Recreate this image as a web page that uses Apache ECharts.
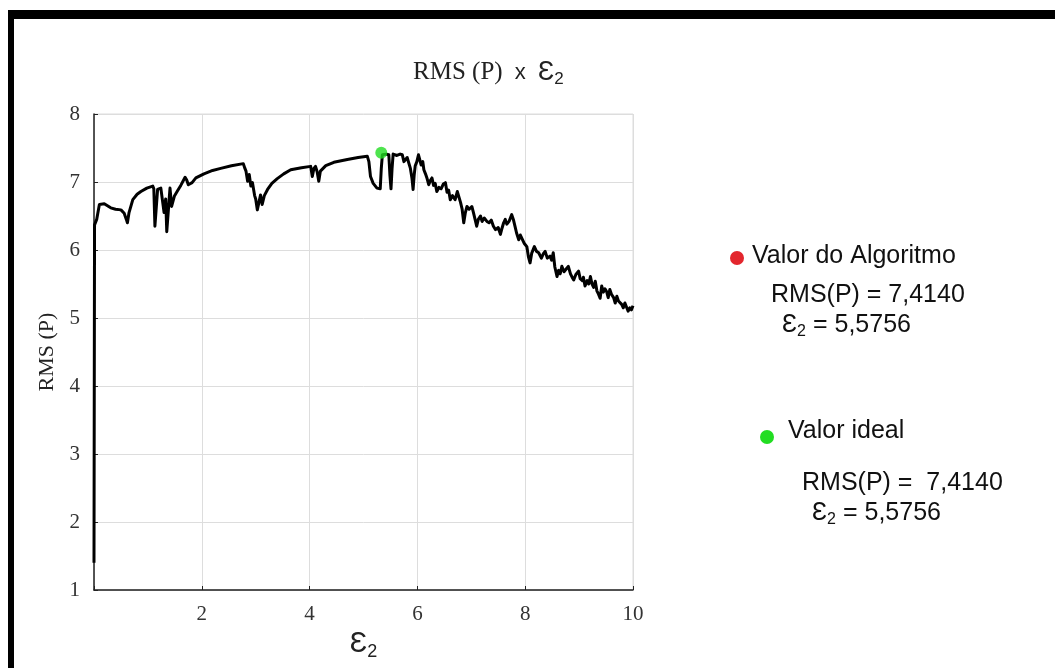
<!DOCTYPE html>
<html>
<head>
<meta charset="utf-8">
<script src="https://cdn.jsdelivr.net/npm/echarts@6/dist/echarts.min.js"></script>
<style>
  html, body { margin: 0; padding: 0; background: #fff; }
  #main { width: 1055px; height: 668px; }
</style>
</head>
<body>
<div id="main"></div>
<script>
// eixo x: epsilon 2
const eps2 = [
  0, 0.01, 0.05, 0.1, 0.19, 0.25, 0.31, 0.4, 0.5, 0.56, 0.6, 0.62, 0.65, 0.72, 0.8, 0.87, 0.98, 1.09, 1.11, 1.13,
  1.15, 1.18, 1.24, 1.27, 1.3, 1.33, 1.35, 1.38, 1.41, 1.43, 1.44, 1.49, 1.55, 1.61, 1.69, 1.72, 1.75, 1.82, 1.89, 2.04,
  2.2, 2.35, 2.55, 2.77, 2.8, 2.82, 2.85, 2.88, 2.91, 2.94, 2.98, 3.0, 3.03, 3.06, 3.09, 3.12, 3.16, 3.22, 3.3, 3.4,
  3.52, 3.65, 3.85, 4.02, 4.05, 4.08, 4.11, 4.14, 4.17, 4.2, 4.3, 4.45, 4.7, 4.9, 5.07, 5.1, 5.13, 5.18, 5.25, 5.31,
  5.33, 5.35, 5.42, 5.47, 5.49, 5.51, 5.53, 5.55, 5.62, 5.68, 5.72, 5.75, 5.78, 5.81, 5.84, 5.87, 5.9, 5.92, 5.94, 5.96,
  5.99, 6.02, 6.04, 6.07, 6.1, 6.12, 6.15, 6.18, 6.21, 6.24, 6.27, 6.3, 6.33, 6.36, 6.4, 6.44, 6.48, 6.52, 6.55, 6.58,
  6.61, 6.65, 6.7, 6.74, 6.77, 6.8, 6.83, 6.86, 6.89, 6.92, 6.96, 7.01, 7.04, 7.07, 7.1, 7.13, 7.17, 7.2, 7.24, 7.29,
  7.33, 7.37, 7.41, 7.45, 7.5, 7.54, 7.57, 7.6, 7.63, 7.66, 7.7, 7.75, 7.78, 7.81, 7.84, 7.88, 7.91, 7.94, 7.98, 8.03,
  8.06, 8.09, 8.12, 8.17, 8.21, 8.25, 8.3, 8.34, 8.37, 8.41, 8.46, 8.49, 8.52, 8.55, 8.59, 8.62, 8.65, 8.68, 8.72, 8.76,
  8.8, 8.84, 8.87, 8.9, 8.94, 8.99, 9.02, 9.06, 9.08, 9.11, 9.15, 9.18, 9.21, 9.24, 9.27, 9.3, 9.33, 9.36, 9.39, 9.42,
  9.45, 9.48, 9.51, 9.54, 9.57, 9.6, 9.64, 9.67, 9.7, 9.73, 9.76, 9.79, 9.82, 9.85, 9.88, 9.91, 9.94, 9.97, 10.0
];
// RMS (P)
const rmsP = [
  1.4, 6.37, 6.45, 6.67, 6.68, 6.65, 6.62, 6.6, 6.59, 6.54, 6.45, 6.4, 6.55, 6.74, 6.82, 6.86, 6.91, 6.94, 6.9, 6.35,
  6.36, 6.89, 6.91, 6.93, 6.55, 6.75, 6.27, 6.59, 6.91, 6.9, 6.64, 6.79, 6.87, 6.95, 7.07, 7.03, 6.96, 6.99, 7.06, 7.12,
  7.17, 7.2, 7.24, 7.27, 7.2, 7.16, 7.01, 7.11, 6.94, 6.99, 6.8, 6.75, 6.59, 6.7, 6.81, 6.67, 6.8, 6.89, 6.98, 7.05,
  7.12, 7.18, 7.21, 7.23, 7.08, 7.2, 7.23, 7.15, 7.01, 7.16, 7.24, 7.29, 7.33, 7.36, 7.38, 7.3, 7.08, 6.98, 6.91, 6.9,
  7.2, 7.4, 7.41, 7.4, 7.1, 6.9, 7.2, 7.41, 7.39, 7.41, 7.4, 7.3, 7.28, 7.36, 7.38, 7.2, 7.05, 6.89, 7.1, 7.24,
  7.3, 7.4, 7.38, 7.25, 7.3, 7.18, 7.12, 7.05, 6.96, 7.02, 7.06, 6.95, 6.98, 6.86, 6.92, 6.9, 6.97, 6.99, 6.85, 6.88,
  6.74, 6.8, 6.74, 6.86, 6.84, 6.7, 6.6, 6.4, 6.55, 6.64, 6.6, 6.64, 6.55, 6.45, 6.35, 6.45, 6.5, 6.42, 6.47, 6.42,
  6.4, 6.44, 6.35, 6.3, 6.33, 6.23, 6.32, 6.4, 6.45, 6.38, 6.42, 6.52, 6.45, 6.35, 6.25, 6.15, 6.22, 6.2, 6.1, 6.05,
  5.9, 5.81, 5.95, 6.05, 5.98, 5.96, 5.88, 5.95, 5.98, 5.88, 5.91, 5.85, 5.96, 5.75, 5.61, 5.7, 5.65, 5.76, 5.68, 5.72,
  5.76, 5.65, 5.6, 5.56, 5.64, 5.69, 5.58, 5.55, 5.6, 5.47, 5.55, 5.5, 5.61, 5.5, 5.45, 5.54, 5.4, 5.35, 5.29, 5.47,
  5.38, 5.43, 5.39, 5.3, 5.42, 5.35, 5.3, 5.22, 5.32, 5.25, 5.27, 5.2, 5.15, 5.22, 5.2, 5.1, 5.15, 5.12, 5.18
];
// ponto ideal (verde)
const idealPoint = [5.33, 7.43];
const xTicks = [0, 2, 4, 6, 8, 10];
const yTicks = [1, 2, 3, 4, 5, 6, 7, 8];

const lineData = eps2.map((x, i) => [x, rmsP[i]]);

const serif = '"Liberation Serif", "DejaVu Serif", serif';
const sans = '"Liberation Sans", Arial, sans-serif';

const legendRich = {
  e: { fontFamily: sans, fontSize: 25, fill: '#111' },
  s: { fontFamily: sans, fontSize: 16, fill: '#111', padding: [12, 0, 0, 0] }
};

const myChart = echarts.init(document.getElementById('main'));
myChart.setOption({
  backgroundColor: '#fff',
  animation: false,
  title: {
    text: '{a|RMS (P)}{x|  x  }{e|Ɛ}{s|2}',
    left: 408,
    top: 52,
    textStyle: {
      fontWeight: 'normal',
      rich: {
        a: { fontFamily: serif, fontSize: 25, fontWeight: 'normal', color: '#222' },
        x: { fontFamily: sans, fontSize: 22, fontWeight: 'normal', color: '#222' },
        e: { fontFamily: sans, fontSize: 27, fontWeight: 'normal', color: '#222' },
        s: { fontFamily: sans, fontSize: 17, fontWeight: 'normal', color: '#222', padding: [14, 0, 0, 0] }
      }
    }
  },
  grid: {
    left: 94, right: 422, top: 114, bottom: 78,
    show: true, borderColor: '#ddd', borderWidth: 1
  },
  xAxis: {
    type: 'value',
    min: xTicks[0], max: xTicks[xTicks.length - 1], interval: 2,
    name: '{e|Ɛ}{s|2}',
    nameLocation: 'middle',
    nameGap: 36,
    nameTextStyle: {
      rich: {
        e: { fontFamily: sans, fontSize: 29, color: '#222' },
        s: { fontFamily: sans, fontSize: 18, color: '#222', padding: [16, 0, 0, 0] }
      }
    },
    axisLine: { lineStyle: { color: '#222', width: 1.5 } },
    axisTick: { show: true, inside: true, length: 4, lineStyle: { color: '#222' } },
    axisLabel: {
      margin: 14, fontFamily: serif, fontSize: 21, color: '#333',
      formatter: v => (v === 0 ? '' : String(v))
    },
    splitLine: { show: true, lineStyle: { color: '#ddd', width: 1 } }
  },
  yAxis: {
    type: 'value',
    min: yTicks[0], max: yTicks[yTicks.length - 1], interval: 1,
    name: 'RMS (P)',
    nameLocation: 'middle',
    nameGap: 24,
    nameRotate: 90,
    nameTextStyle: { fontFamily: serif, fontSize: 22, color: '#222' },
    axisLine: { show: true, lineStyle: { color: '#222', width: 1.5 } },
    axisTick: { show: true, inside: true, length: 4, lineStyle: { color: '#222' } },
    axisLabel: { margin: 14, fontFamily: serif, fontSize: 21, color: '#333' },
    splitLine: { show: true, lineStyle: { color: '#ddd', width: 1 } }
  },
  series: [
    {
      type: 'line',
      data: lineData,
      showSymbol: false,
      lineStyle: { color: '#000', width: 3, join: 'round' },
      z: 2
    },
    {
      type: 'scatter',
      data: [idealPoint],
      symbolSize: 12,
      itemStyle: { color: '#22dd22' },
      z: 3
    }
  ],
  graphic: [
    // moldura preta
    { type: 'rect', shape: { x: 8, y: 10, width: 1047, height: 9 }, style: { fill: '#000' } },
    { type: 'rect', shape: { x: 8, y: 10, width: 6, height: 658 }, style: { fill: '#000' } },
    // legenda lateral
    { type: 'circle', shape: { cx: 737, cy: 258, r: 7 }, style: { fill: '#e3262d' } },
    { type: 'text', left: 752, top: 244, style: { text: 'Valor do Algoritmo', font: '25px ' + sans, fill: '#111' } },
    { type: 'text', left: 771, top: 283, style: { text: 'RMS(P) = 7,4140', font: '25px ' + sans, fill: '#111' } },
    { type: 'text', left: 782, top: 313, style: { text: '{e|Ɛ}{s|2}{e| = 5,5756}', rich: legendRich } },
    { type: 'circle', shape: { cx: 767, cy: 437, r: 7 }, style: { fill: '#22dd22' } },
    { type: 'text', left: 788, top: 419, style: { text: 'Valor ideal', font: '25px ' + sans, fill: '#111' } },
    { type: 'text', left: 802, top: 471, style: { text: 'RMS(P) =  7,4140', font: '25px ' + sans, fill: '#111' } },
    { type: 'text', left: 812, top: 501, style: { text: '{e|Ɛ}{s|2}{e| = 5,5756}', rich: legendRich } }
  ]
});
</script>
</body>
</html>
